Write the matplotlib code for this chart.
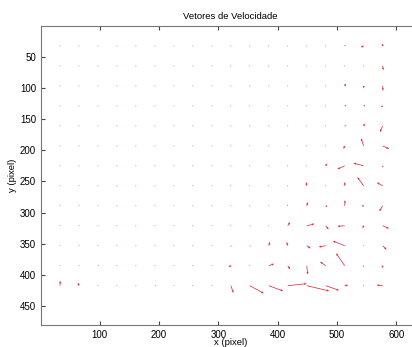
import numpy as np
import matplotlib
matplotlib.use("Agg")
import matplotlib.pyplot as plt

plt.rcParams['font.family'] = ['Liberation Sans', 'DejaVu Sans']

# grid of measurement points (pixel coords)
x_pts = [33, 65, 97, 129, 161, 193, 225, 257, 289, 321, 353, 385, 417, 449, 481, 513, 545, 577]
y_pts = [33, 65, 97, 129, 161, 193, 225, 257, 289, 321, 353, 385, 417]

# velocity components, one row per y value
u_rows = [
    [0, 0, 0, 0, 0, 0, 0, 0, 0, 0, 0, 0, 0, 0, 0, 1.5, -5, 0],
    [0, 0, 0, 0, 0, 0, 0, 0, 0, 0, 0, 0, 0, 0, 0, 0, 0, 1],
    [0, 0, 0, 0.5, 0, 0, 0, 0, 0, 0, 0, 0, 0, 0, 0, 2, 0, 0.5],
    [0, 0, 0, 0, 0, 0, 0, 0, 0, 0, 0, 0, 1, 0, 0, 3, 3, -3],
    [0, 0, 0, 0, 0, 0, 0, 0, 0, 0, 0, 0, 0, 0, 0, 3, 2, -4.5],
    [0, 0, 0, 0, 0, 0, 0, 0, 0, 0, 0, 0, 0, 0, 0, -2, -4.5, 11],
    [0, 0, 0, 0, 0, 0, 0, 0, 0, 0, 0, 0, 0, 0, 2, -12.4, -17.4, 0.5],
    [0, 0, 0, 0, 0, 0, 0, 0, 0, 0, 0, 0, 0, -1, 0, 0, -10.7, -10],
    [0, 0, 0, 0, 0, 0, 0, 0, 0, 0, 0, 0, -1, 2, 3, 0.5, -4, -5.6],
    [0, 0, 0, 0, 0, 0, 0, 0, 0, 0, 2, 0, 4, 13, 5, -12.4, -2, 10.7],
    [0, 0, 0, 0, 0, 0, 0, 0, 0, 1, 2, 2, -2, 6.7, -12, -20, 0, 6.7],
    [0, 0, 2, 0, 0, 0, 0, 0, 0, -4, 0, 9, 4, 1.7, -9.6, -14.6, -1.5, -1],
    [0.5, -2, 0, 0, 0, 2, 0, 0, 0, 4.5, 23.6, 24.2, 32, 38, 22.5, 6, 0, -10],
]
v_rows = [
    [0, 0, 0, 0, 0, 0, 0, 0, 0, 0, 0, 0, 0, 0, 0, -2, 2, -4],
    [0, 0, 0, 0, 0, 0, 0, 0, 0, 0, 0, 0, 0, 0, 0, 0, 1, 7],
    [0, 0, 0, 0.5, 0, 0, 0, 0, 0, 0, 0, 0, 0, 0, 0, -4, 4, 8],
    [0, 0, 0, 0, 0, 0, 0, 0, 0, 0, 0, 0, -1, 0, 0, -1, -1, 2],
    [0, 0, 0, 0, 0, 0, 0, 0, 0, 0, 0, 0, 0, 0, 0, 0, -4, 10],
    [0, 0, 0, 0, 0, 0, 0, 0, 0, 0, 0, 0, 0, 0, 0, 5, -12, 5],
    [0, 0, 0, 0, 0, 0, 0, 0, 0, 0, 0, 0, 0, 0, -4, 5.3, -4.3, 3],
    [0, 0, 0, 0, 0, 0, 0, 0, 0, 0, 0, 0, 0, -6, 0, -6, -13.8, -5.3],
    [0, 0, 0, 0, 0, 0, 0, 0, 0, 0, 0, 0, -2, -6, 2, -9, 0.5, 9],
    [0, 0, 0, 0, 0, 0, 0, 0, 0, 0, 0.5, 0, -6, -3, 6, 1, 4, 4.3],
    [1, 0, 0, 0, 0, 0, 0, 0, 0, 2, 1, -6, -6, 4.3, 2, -7.5, 1, 6.4],
    [0, 0, 0, 0, 0, 0, 0, 0, 0, 2, 0, -3, 6, 14, -6.4, -20, 2, 4],
    [-8, -5, 0, 0, 0, 0, 0, 0, 0, 11.7, 12.3, 8.5, -3.2, 8.5, 7.5, -1, 0, -1],
]

X, Y = np.meshgrid(x_pts, y_pts)
U = np.array(u_rows)
V = np.array(v_rows)

fig = plt.figure(figsize=(4.12, 3.47), dpi=100)
ax = fig.add_axes([0.0995, 0.0634, 0.92, 0.8617])

# thin lines with small heads, like matlab quiver
ax.quiver(X, Y, U, V, angles='xy', scale_units='xy', scale=1,
          color='#e03038', width=0.002, headwidth=3, headlength=3.5,
          headaxislength=3.2, minlength=1.2)

ax.set_xlim(1, 640)
ax.set_ylim(480, 1)
ax.set_xticks([100, 200, 300, 400, 500, 600])
ax.set_yticks([50, 100, 150, 200, 250, 300, 350, 400, 450])
ax.tick_params(direction='in', top=True, right=True, length=3,
               labelsize=7, colors='#444444', labelcolor='black')
for s in ax.spines.values():
    s.set_color('#777777')

ax.set_title('Vetores de Velocidade', fontsize=6.8, pad=5)
ax.set_xlabel('x (pixel)', fontsize=6.8, labelpad=-1)
ax.set_ylabel('y (pixel)', fontsize=6.8, labelpad=2)

fig.savefig('out.png', dpi=100)
